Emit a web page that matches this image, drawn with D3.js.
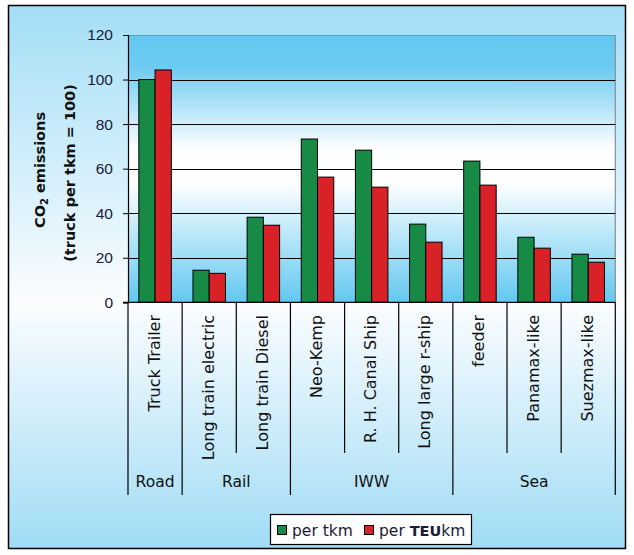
<!DOCTYPE html>
<html><head><meta charset="utf-8">
<script src="https://cdn.jsdelivr.net/npm/d3@7/dist/d3.min.js"></script>
<style>body{margin:0;background:#fff}svg{display:block}</style>
</head><body>
<script>
const categories = ["Truck Trailer","Long train electric","Long train Diesel","Neo-Kemp","R. H. Canal Ship","Long large r-ship","feeder","Panamax-like","Suezmax-like"];
const groupNames = ["Road","Rail","IWW","Sea"];
const groupSizes = [1,2,3,3];
const seriesNames = ["per tkm","per TEUkm"];
const perTkm = [100, 14.4, 38.2, 73.3, 68.3, 35.1, 63.4, 29.2, 21.6];
const perTEUkm = [104.3, 13.0, 34.6, 56.2, 51.7, 27.0, 52.6, 24.3, 18.0];
const yTicks = [0,20,40,60,80,100,120];
const colors = ["#178a45","#d92128"];

const W=634,H=555;
const svg=d3.select("body").append("svg").attr("width",W).attr("height",H);
const defs=svg.append("defs");
const g1=defs.append("linearGradient").attr("id","outerG").attr("x1",0).attr("y1",0).attr("x2",0).attr("y2",1);
[[0,"#a3def6"],[0.55,"#fbfdff"],[1,"#a0dcf5"]].forEach(s=>g1.append("stop").attr("offset",s[0]).attr("stop-color",s[1]));
const g2=defs.append("linearGradient").attr("id","plotG").attr("x1",0).attr("y1",0).attr("x2",0).attr("y2",1);
[[0,"#62c8f0"],[0.12,"#6ccbf1"],[0.42,"#fbfdff"],[0.55,"#ffffff"],[1,"#62c8f0"]].forEach(s=>g2.append("stop").attr("offset",s[0]).attr("stop-color",s[1]));

svg.append("rect").attr("x",8.5).attr("y",5.5).attr("width",617).attr("height",543)
  .attr("fill","url(#outerG)").attr("stroke","#000").attr("stroke-width",1.5);

const L=128,R=615.3,T=35,B=302.3;
const y=d3.scaleLinear().domain([0,120]).range([B,T]);
const x0=d3.scaleBand().domain(categories).range([L,R]).padding(0);
const x1=d3.scaleBand().domain(seriesNames).range([x0.bandwidth()*0.2,x0.bandwidth()*0.8]).padding(0);

svg.append("rect").attr("x",L).attr("y",T).attr("width",R-L).attr("height",B-T).attr("fill","url(#plotG)");
svg.append("path").attr("d",`M${L},${T+0.5}H${R}V${B}`).attr("fill","none").attr("stroke","#858f96").attr("stroke-width",1.2);
svg.append("g").selectAll("line").data(yTicks.filter(t=>t>0&&t<120)).join("line")
  .attr("x1",L).attr("x2",R).attr("y1",d=>Math.round(y(d))+0.5).attr("y2",d=>Math.round(y(d))+0.5)
  .attr("stroke","#000").attr("stroke-width",1);

const data=categories.map((c,i)=>({c,vals:[perTkm[i],perTEUkm[i]]}));
const bg=svg.append("g").selectAll("g").data(data).join("g").attr("transform",d=>`translate(${x0(d.c)},0)`);
bg.selectAll("rect").data(d=>d.vals.map((v,k)=>({v,k}))).join("rect")
  .attr("x",d=>x1(seriesNames[d.k])).attr("width",x1.bandwidth())
  .attr("y",d=>y(d.v)).attr("height",d=>B-y(d.v))
  .attr("fill",d=>colors[d.k]).attr("stroke","#000").attr("stroke-width",1);

const yAxis=d3.axisLeft(y).tickValues(yTicks).tickSize(5).tickPadding(10);
const ya=svg.append("g").attr("transform",`translate(${L},0)`).call(yAxis);
ya.select(".domain").attr("stroke","#000").attr("stroke-width",1.2);
ya.selectAll(".tick line").attr("stroke","#000");
ya.selectAll("text").attr("font-family","Liberation Sans, Arial, sans-serif").attr("font-size",15.5).attr("fill","#1a1a3a");

svg.append("line").attr("x1",L-5).attr("x2",R).attr("y1",B).attr("y2",B).attr("stroke","#000").attr("stroke-width",1.2);

const groupBounds=[0];groupSizes.forEach(s=>groupBounds.push(groupBounds[groupBounds.length-1]+s));
const longIdx=new Set(groupBounds);
for(let i=0;i<=categories.length;i++){
  const xx=i<categories.length?x0(categories[i]):R;
  svg.append("line").attr("x1",xx).attr("x2",xx).attr("y1",B).attr("y2",longIdx.has(i)?495:453)
    .attr("stroke","#000").attr("stroke-width",1.2);
}
svg.append("g").selectAll("text").data(categories).join("text")
  .attr("transform",d=>`translate(${x0(d)+x0.bandwidth()/2+4.5},315) rotate(-90)`)
  .attr("text-anchor","end").attr("font-family","DejaVu Sans, Verdana, sans-serif").attr("font-size",16)
  .attr("fill","#111").text(d=>d);
groupNames.forEach((gn,i)=>{
  const a=x0(categories[groupBounds[i]]);
  const b=groupBounds[i+1]<categories.length?x0(categories[groupBounds[i+1]]):R;
  svg.append("text").attr("x",(a+b)/2).attr("y",487).attr("text-anchor","middle")
    .attr("font-family","DejaVu Sans, Verdana, sans-serif").attr("font-size",15.5).attr("fill","#111").text(gn);
});

const t1=svg.append("text").attr("transform","translate(45,170) rotate(-90)").attr("text-anchor","middle")
  .attr("font-family","DejaVu Sans, Verdana, sans-serif").attr("font-size",14.5).attr("font-weight","bold").attr("fill","#111");
t1.append("tspan").text("CO");
t1.append("tspan").attr("font-size",10).attr("dy",3).text("2");
t1.append("tspan").attr("dy",-3).text(" emissions");
svg.append("text").attr("transform","translate(75,173) rotate(-90)").attr("text-anchor","middle")
  .attr("font-family","DejaVu Sans, Verdana, sans-serif").attr("font-size",14.5).attr("font-weight","bold").attr("fill","#111")
  .text("(truck per tkm = 100)");

const lg=svg.append("g");
lg.append("rect").attr("x",270.5).attr("y",514.5).attr("width",201).attr("height",30).attr("fill","#fff").attr("stroke","#000").attr("stroke-width",1.2);
const lx=[277.5,364.5];
seriesNames.forEach((s,k)=>{
  lg.append("rect").attr("x",lx[k]).attr("y",525.5).attr("width",9).attr("height",9).attr("fill",colors[k]).attr("stroke","#000").attr("stroke-width",1);
});
lg.append("text").attr("x",292).attr("y",535.5).attr("font-family","DejaVu Sans, Verdana, sans-serif").attr("font-size",15.5).attr("fill","#1a1a3a").text("per tkm");
const t2=lg.append("text").attr("x",379).attr("y",535.5).attr("font-family","DejaVu Sans, Verdana, sans-serif").attr("font-size",15.5).attr("fill","#1a1a3a").attr("textLength",null);
t2.append("tspan").text("per ");
t2.append("tspan").attr("font-weight","bold").attr("font-size",14.5).text("TEU");
t2.append("tspan").text("km");
</script>
</body></html>
